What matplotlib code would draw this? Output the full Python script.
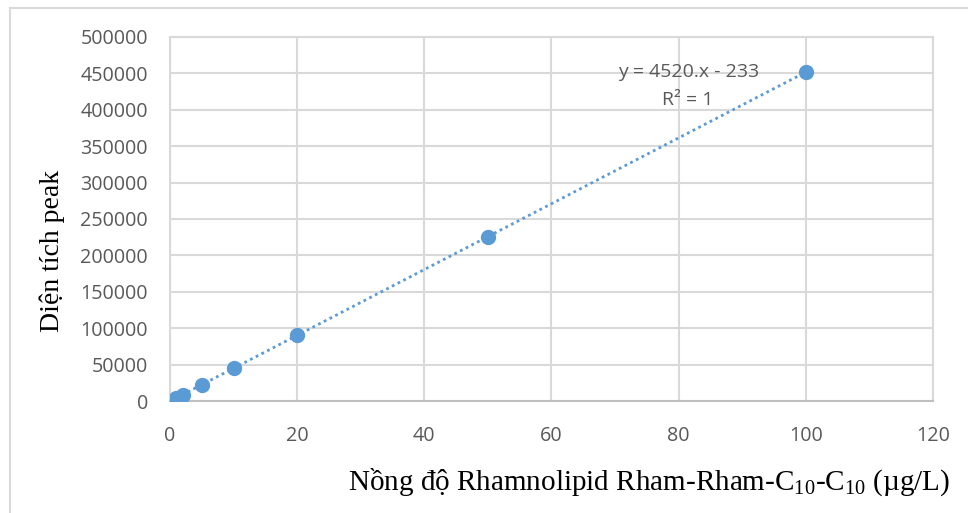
import numpy as np
import matplotlib as mpl
import matplotlib.pyplot as plt
from matplotlib.lines import Line2D

# calibration data: concentration (ug/L) vs peak area
concentration = [1, 2, 5, 10, 20, 50, 100]
peak_area = [4300, 8800, 22400, 45000, 90200, 225800, 451800]

# trendline coefficients shown on the chart
slope = 4520
intercept = -233
r_squared = 1

x_ticks = [0, 20, 40, 60, 80, 100, 120]
y_ticks = [0, 50000, 100000, 150000, 200000, 250000, 300000, 350000, 400000, 450000, 500000]

mpl.rcParams['mathtext.fontset'] = 'custom'
mpl.rcParams['mathtext.rm'] = 'Liberation Serif'
mpl.rcParams['mathtext.it'] = 'Liberation Serif'

blue = '#5B9BD5'
grid_grey = '#D9D9D9'
text_grey = '#595959'

fig = plt.figure(figsize=(9.68, 5.13), dpi=100)
ax = fig.add_axes([0.1756, 0.2183, 0.7882, 0.7096])

# outer chart border (only left and top edges are visible)
fig.add_artist(Line2D([10 / 968, 10 / 968], [0, 1 - 8 / 513], transform=fig.transFigure,
                      color=grid_grey, lw=1.5))
fig.add_artist(Line2D([10 / 968, 1], [1 - 8 / 513, 1 - 8 / 513], transform=fig.transFigure,
                      color=grid_grey, lw=1.5))

# linear trendline
xfit = np.linspace(min(concentration), max(concentration), 200)
ax.plot(xfit, slope * xfit + intercept, linestyle=(0, (1, 1.3)), color=blue, lw=2, zorder=3)
ax.plot(concentration, peak_area, 'o', color=blue, markersize=10, zorder=4)

ax.set_xlim(0, 120)
ax.set_ylim(0, 500000)
ax.set_xticks(x_ticks)
ax.set_yticks(y_ticks)
ax.set_xticklabels([str(v) for v in x_ticks])
ax.set_yticklabels([str(v) for v in y_ticks])
ax.grid(True, color=grid_grey, lw=1.5)
ax.set_axisbelow(True)

for side in ['top', 'right', 'left']:
    ax.spines[side].set_color(grid_grey)
    ax.spines[side].set_linewidth(1.5)
ax.spines['bottom'].set_color('#BFBFBF')
ax.spines['bottom'].set_linewidth(1.5)

ax.tick_params(length=0, labelcolor=text_grey, labelsize=14.2)
ax.tick_params(axis='y', pad=16)
ax.tick_params(axis='x', pad=18)
for lbl in ax.get_xticklabels() + ax.get_yticklabels():
    lbl.set_fontfamily('Open Sans')

ax.text(81.5, 452000, 'y = %d.x - %d' % (slope, -intercept), ha='center', va='center',
        fontsize=14, color=text_grey, family='Open Sans')
ax.text(81.5, 413000, 'R² = %d' % r_squared, ha='center', va='center',
        fontsize=14, color=text_grey, family='Open Sans')

fig.text(52 / 968, 1 - 251 / 513, 'Diện tích peak', rotation=90, ha='center', va='center',
         fontsize=20, family='Liberation Serif')
fig.text(348 / 968, 1 - 482 / 513, 'Nồng độ Rhamnolipid Rham-Rham-C$_{10}$-C$_{10}$ (µg/L)',
         ha='left', va='center', fontsize=21, family='Liberation Serif')

fig.savefig('out.png', dpi=100)
